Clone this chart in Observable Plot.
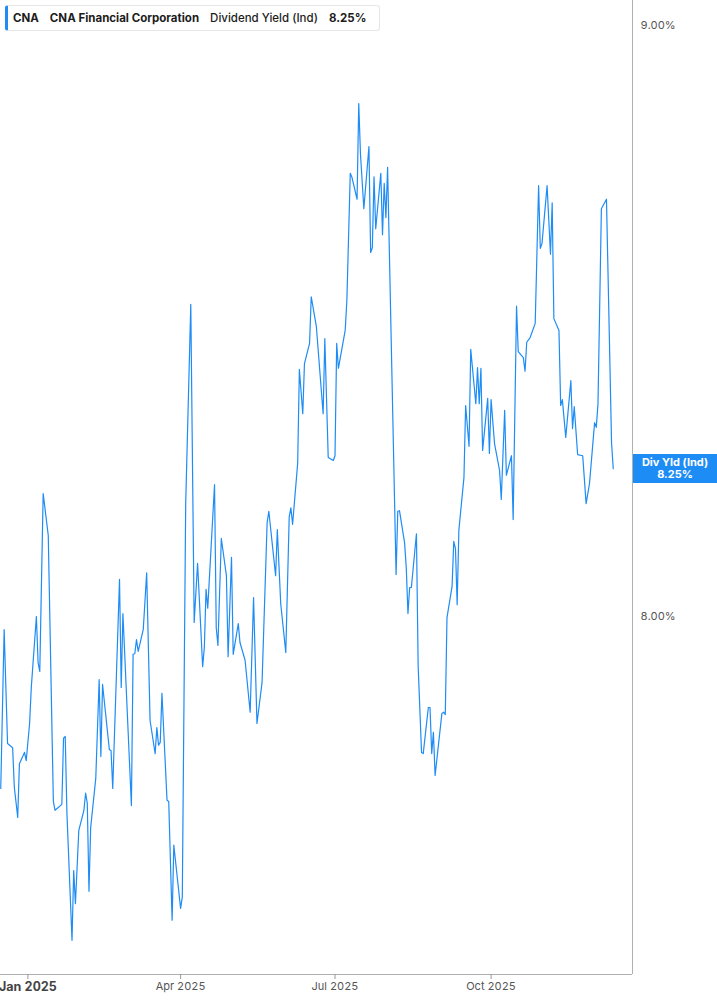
<!DOCTYPE html>
<html>
<head>
<meta charset="utf-8">
<script src="https://cdn.jsdelivr.net/npm/d3@7"></script>
<script src="https://cdn.jsdelivr.net/npm/@observablehq/plot@0.6"></script>
<style>
  html, body { margin: 0; padding: 0; background: #fff; }
  #wrap { position: relative; width: 717px; height: 1005px; font-family: Inter, "Noto Sans", sans-serif; }
  #hdr { position: absolute; left: 5px; top: 5px; height: 26px; box-sizing: border-box; display: flex; align-items: center;
         border: 1px solid #e6e6e6; border-left: 3px solid #1e8cf5; border-radius: 3px; background: #fff;
         padding: 0 13px 0 5px; font-size: 11.5px; color: #1c1c1c; white-space: nowrap; }
  #hdr span { margin-right: 11px; }
  #hdr span:last-child { margin-right: 0; }
  #tag { position: absolute; left: 633px; width: 84px; height: 29px; background: #1e8cf5; color: #fff;
         font-size: 11px; font-weight: 700; line-height: 12px; text-align: center; display: flex; flex-direction: column; justify-content: center; }
</style>
</head>
<body>
<div id="wrap">
  <div id="chart"></div>
  <div id="hdr"><span style="font-weight:700">CNA</span><span style="font-weight:700">CNA Financial Corporation</span><span style="font-weight:500">Dividend Yield (Ind)</span><span style="font-weight:700">8.25%</span></div>
  <div id="tag"><div>Div Yld (Ind)</div><div>8.25%</div></div>
</div>
<script>
const dates = [
"2024-12-16","2024-12-18","2024-12-20","2024-12-23","2024-12-24","2024-12-26","2024-12-27","2024-12-30","2024-12-31",
"2025-01-02","2025-01-03","2025-01-06","2025-01-07","2025-01-08","2025-01-10","2025-01-13","2025-01-16","2025-01-17",
"2025-01-21","2025-01-22","2025-01-23","2025-01-24","2025-01-27","2025-01-28","2025-01-29","2025-01-31",
"2025-02-03","2025-02-04","2025-02-05","2025-02-06","2025-02-07","2025-02-10","2025-02-12","2025-02-13","2025-02-14",
"2025-02-18","2025-02-19","2025-02-20","2025-02-24","2025-02-25","2025-02-26",
"2025-03-03","2025-03-04","2025-03-05","2025-03-06","2025-03-07","2025-03-10","2025-03-12","2025-03-14",
"2025-03-17","2025-03-18","2025-03-19","2025-03-20","2025-03-21","2025-03-24","2025-03-25","2025-03-27","2025-03-28",
"2025-04-01","2025-04-02","2025-04-04","2025-04-07","2025-04-09","2025-04-11","2025-04-14","2025-04-15","2025-04-16",
"2025-04-17","2025-04-21","2025-04-22","2025-04-23","2025-04-25","2025-04-28","2025-04-29",
"2025-05-01","2025-05-02","2025-05-05","2025-05-06","2025-05-09","2025-05-12","2025-05-14","2025-05-16","2025-05-19",
"2025-05-22","2025-05-23","2025-05-27","2025-05-28","2025-05-30",
"2025-06-02","2025-06-04","2025-06-05","2025-06-06","2025-06-09","2025-06-10","2025-06-12","2025-06-13","2025-06-16",
"2025-06-17","2025-06-20","2025-06-24","2025-06-25","2025-06-27","2025-06-30",
"2025-07-01","2025-07-02","2025-07-03","2025-07-07","2025-07-08","2025-07-10","2025-07-11","2025-07-14","2025-07-15",
"2025-07-16","2025-07-18","2025-07-21","2025-07-22","2025-07-23","2025-07-24","2025-07-25","2025-07-28","2025-07-29",
"2025-07-30","2025-07-31","2025-08-01","2025-08-06","2025-08-07","2025-08-08","2025-08-11","2025-08-12","2025-08-13",
"2025-08-14","2025-08-15","2025-08-18","2025-08-19","2025-08-21","2025-08-22","2025-08-25","2025-08-26","2025-08-27",
"2025-08-28","2025-08-29","2025-09-02","2025-09-03","2025-09-04","2025-09-05","2025-09-08","2025-09-09","2025-09-10",
"2025-09-11","2025-09-12","2025-09-15","2025-09-16","2025-09-18","2025-09-19","2025-09-22","2025-09-23","2025-09-24",
"2025-09-25","2025-09-26","2025-09-29","2025-09-30","2025-10-01","2025-10-03","2025-10-06","2025-10-07","2025-10-09",
"2025-10-10","2025-10-13","2025-10-14","2025-10-16","2025-10-17","2025-10-20","2025-10-21","2025-10-22","2025-10-24",
"2025-10-27","2025-10-29","2025-10-30","2025-10-31","2025-11-03","2025-11-05","2025-11-06","2025-11-07","2025-11-10",
"2025-11-11","2025-11-12","2025-11-14","2025-11-17","2025-11-18","2025-11-19","2025-11-21","2025-11-24","2025-11-26",
"2025-11-28","2025-12-01","2025-12-02","2025-12-03","2025-12-05","2025-12-08","2025-12-11","2025-12-12"
];
const values = [
7.709,7.978,7.785,7.778,7.711,7.660,7.751,7.770,7.756,
7.819,7.880,8.000,7.922,7.907,8.208,8.137,7.687,7.672,
7.682,7.794,7.797,7.667,7.452,7.570,7.514,7.638,
7.672,7.701,7.684,7.535,7.643,7.726,7.893,7.763,7.885,
7.775,7.773,7.709,8.063,7.880,8.005,
7.680,7.936,7.937,7.961,7.941,7.978,8.074,7.824,
7.768,7.812,7.782,7.787,7.870,7.689,7.687,7.486,7.613,
7.506,7.525,8.191,8.528,7.990,8.090,7.915,7.948,8.046,
8.014,8.223,7.981,7.951,8.132,8.069,7.932,
8.100,7.936,7.988,7.956,7.926,7.838,8.032,7.819,7.888,
8.159,8.178,8.069,8.147,8.022,
7.939,8.168,8.184,8.156,8.259,8.418,8.343,8.428,8.462,
8.541,8.491,8.343,8.470,8.269,8.264,
8.272,8.462,8.420,8.484,8.535,8.750,8.743,8.706,8.868,
8.783,8.690,8.795,8.616,8.624,8.744,8.656,8.750,8.646,
8.733,8.675,8.760,8.071,8.178,8.179,8.125,8.083,8.005,
8.049,8.049,8.140,7.917,7.770,7.768,7.846,7.846,7.768,
7.804,7.731,7.836,7.838,7.834,7.998,8.051,8.127,8.115,
8.020,8.146,8.235,8.357,8.288,8.452,8.360,8.421,8.360,
8.420,8.281,8.369,8.276,8.367,8.293,8.247,8.198,8.349,
8.239,8.272,8.164,8.525,8.448,8.438,8.415,8.464,8.472,
8.496,8.729,8.623,8.631,8.729,8.613,8.700,8.504,8.484,
8.357,8.367,8.303,8.399,8.318,8.355,8.274,8.272,8.191,
8.225,8.328,8.320,8.360,8.690,8.706,8.293,8.250
];
const xTicks = ["2025-01-01","2025-04-01","2025-07-01","2025-10-01"];
const yTicks = [8, 9];
const lastValue = 8.25;

const data = dates.map((d, i) => ({date: new Date(d), value: values[i]}));
const day = 864e5;
const jan1 = Date.UTC(2025, 0, 1);
const xDomain = [new Date(jan1 - 16.15 * day), new Date(jan1 + 356.34 * day)];
const yDomain = [7.3942, 9.0423];
const fmt = d3.utcFormat("%b %Y");
const blue = "#1e8cf5";

const chart = Plot.plot({
  width: 717, height: 1005,
  marginTop: 0, marginRight: 85, marginBottom: 31, marginLeft: 0,
  style: {fontFamily: "Inter, 'Noto Sans', sans-serif", fontSize: "11px", color: "#555", background: "#fff", overflow: "visible"},
  x: {type: "utc", domain: xDomain, label: null},
  y: {domain: yDomain, label: null},
  marks: [
    Plot.ruleY([yDomain[0]], {stroke: "#b0b0b0", strokeWidth: 1}),
    Plot.ruleX([xDomain[1]], {stroke: "#b0b0b0", strokeWidth: 1}),
    Plot.axisX(xTicks.slice(1).map(d => new Date(d)), {label: null, tickSize: 5, tickPadding: 3, tickFormat: fmt, stroke: "#999", fill: "#555", fontSize: 11}),
    Plot.axisX(xTicks.slice(0, 1).map(d => new Date(d)), {label: null, tickSize: 5, tickPadding: 3, tickFormat: fmt, stroke: "#999", fill: "#444", fontSize: 12.5, fontWeight: "bold"}),
    Plot.axisY(yTicks, {label: null, anchor: "right", tickSize: 0, tickPadding: 8, tickFormat: d => d.toFixed(2) + "%", fill: "#555", fontSize: 11}),
    Plot.line(data, {x: "date", y: "value", stroke: blue, strokeWidth: 1.2})
  ]
});
document.getElementById("chart").appendChild(chart);
const yPix = chart.scale("y").apply(lastValue);
document.getElementById("tag").style.top = (yPix - 14.5) + "px";
</script>
</body>
</html>
